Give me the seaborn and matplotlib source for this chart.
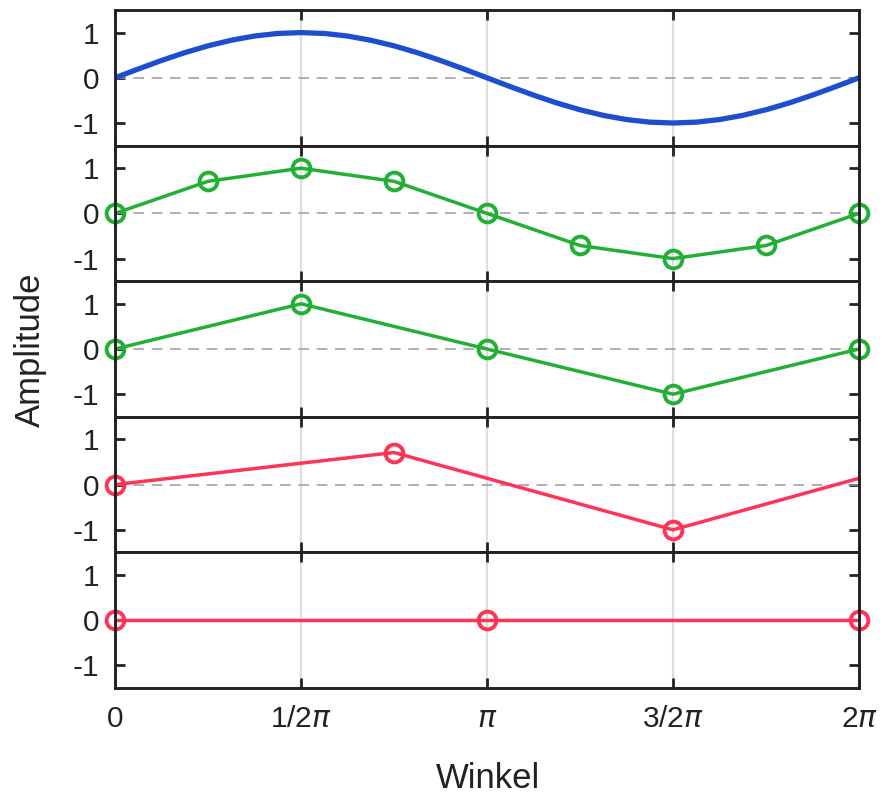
import numpy as np
import pandas as pd
import matplotlib
matplotlib.use("Agg")
import matplotlib.pyplot as plt
import seaborn as sns

sns.set_theme(style="white")
plt.rcParams['font.family'] = ['Liberation Sans', 'DejaVu Sans']
plt.rcParams['mathtext.fontset'] = 'dejavusans'
plt.rcParams['axes.unicode_minus'] = False

PI = np.pi
# Panel 1: continuous sine (values read at steps of pi/16)
sine_x = np.arange(33) * PI / 16
sine_y = [0, 0.195, 0.383, 0.556, 0.707, 0.831, 0.924, 0.981, 1.0,
          0.981, 0.924, 0.831, 0.707, 0.556, 0.383, 0.195, 0,
          -0.195, -0.383, -0.556, -0.707, -0.831, -0.924, -0.981, -1.0,
          -0.981, -0.924, -0.831, -0.707, -0.556, -0.383, -0.195, 0]
# Panel 2: 8 samples per period
s8_x = np.arange(9) * PI / 4
s8_y = [0, 0.71, 1, 0.71, 0, -0.71, -1, -0.71, 0]
# Panel 3: 4 samples per period
s4_x = np.arange(5) * PI / 2
s4_y = [0, 1, 0, -1, 0]
# Panel 4: undersampled (step 3/4 pi)
s3_x = np.arange(4) * 3 * PI / 4
s3_y = [0, 0.71, -1, 0.71]
# Panel 5: 2 samples per period
s2_x = np.arange(3) * PI
s2_y = [0, 0, 0]

xtick_pos = [0, PI / 2, PI, 3 * PI / 2, 2 * PI]
xtick_labels = ['0', r'1/2$\pi$', r'$\pi$', r'3/2$\pi$', r'2$\pi$']
ytick_pos = [-1, 0, 1]
ytick_labels = ['-1', '0', '1']

blue = '#1d4ed0'
green = '#21b034'
red = '#ff3355'
ink = '#222222'

W, H = 883, 798
fig = plt.figure(figsize=(W / 100, H / 100), dpi=100)
left, right = 115 / W, 859 / W
top, bottom = 1 - 10 / H, 1 - 688 / H
ph = (top - bottom) / 5

panels = [
    (sine_x, sine_y, blue, False),
    (s8_x, s8_y, green, True),
    (s4_x, s4_y, green, True),
    (s3_x, s3_y, red, True),
    (s2_x, s2_y, red, True),
]

for i, (xs, ys, col, mk) in enumerate(panels):
    ax = fig.add_axes([left, top - (i + 1) * ph, right - left, ph])
    ax.set_xlim(0, 2 * PI)
    ax.set_ylim(-1.5, 1.5)
    for gx in [PI / 2, PI, 3 * PI / 2]:
        ax.axvline(gx, color='#dedede', lw=1.6, zorder=0)
    ax.axhline(0, color='#9a9a9a', lw=1.1, dashes=(7, 5), zorder=1)
    df = pd.DataFrame({'x': xs, 'y': ys})
    lw = 3.8 if not mk else 2.5
    sns.lineplot(data=df, x='x', y='y', ax=ax, color=col, lw=lw,
                 sort=False, estimator=None, zorder=3)
    if mk:
        vis = df[df['x'] <= 2 * PI + 1e-9]
        ax.plot(vis['x'], vis['y'], linestyle='none', marker='o',
                markersize=12.8, markerfacecolor='none',
                markeredgecolor=col, markeredgewidth=2.8,
                clip_on=False, zorder=4)
    ax.set_xlabel('')
    ax.set_ylabel('')
    ax.set_yticks(ytick_pos)
    ax.set_yticklabels(ytick_labels)
    ax.set_xticks(xtick_pos)
    if i == 4:
        ax.set_xticklabels(xtick_labels)
    else:
        ax.set_xticklabels([])
    ax.tick_params(direction='in', length=7, width=2.0, colors=ink,
                   labelsize=21.5, top=True, right=True, left=True, bottom=True,
                   labelcolor=ink, pad=11)
    ax.tick_params(axis='x', pad=12)
    for sp in ax.spines.values():
        sp.set_visible(True)
        sp.set_color(ink)
        sp.set_linewidth(2.1)
        sp.set_zorder(5)

fig.text(30 / W, 1 - 350 / H, 'Amplitude', rotation=90, ha='center',
         va='center', fontsize=25, color=ink)
fig.text(488 / W, 1 - 778 / H, 'Winkel', ha='center', va='center',
         fontsize=25, color=ink)

fig.savefig('out.png', dpi=100)
